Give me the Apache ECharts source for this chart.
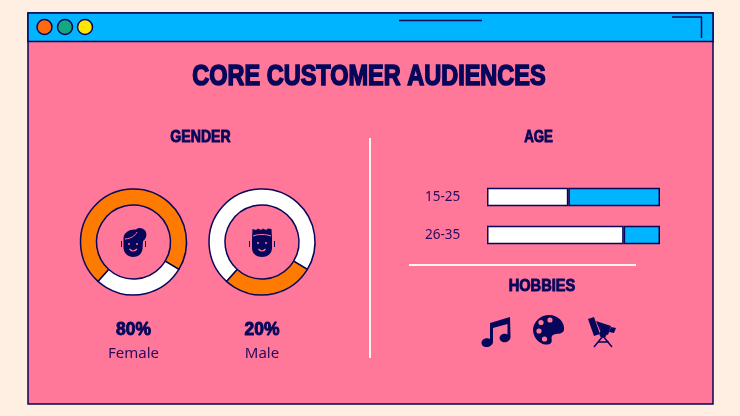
<!DOCTYPE html>
<html lang="en">
<head>
<meta charset="utf-8">
<title>Core customer audiences</title>
<script src="https://cdn.jsdelivr.net/npm/echarts@6/dist/echarts.min.js"></script>
<style>
  html, body { margin: 0; padding: 0; background: #feefe2; }
  #main { width: 740px; height: 416px; }
</style>
</head>
<body>
<div id="main"></div>
<script>
// values (the arcs are drawn shorter than the printed 80%)
var genderNames = ['Female', 'Male'];
var genderLabels = ['80%', '20%'];
var femaleArc = [72, 28];   // orange, white
var maleArc = [72, 28];     // white, orange
var ageGroups = ['26-35', '15-25'];
var ageWhite = [79, 47];
var ageBlue = [21, 53];

var navy = '#06065a';
var pink = '#ff7799';
var blue = '#00b4ff';
var orange = '#ff7a00';
var headFont = '"Liberation Sans", sans-serif';
var bodyFont = '"Noto Sans", sans-serif';

function head(x, y, text, size, sx) {
  return {
    type: 'text', x: x, y: y, z: 10, scaleX: sx,
    style: {
      text: text, fill: navy, align: 'center', verticalAlign: 'middle',
      font: 'bold ' + size + 'px ' + headFont,
      stroke: navy, lineWidth: size > 20 ? 1.6 : 0.9
    }
  };
}
function body(x, y, text) {
  return {
    type: 'text', x: x, y: y, z: 10,
    style: { text: text, fill: '#2a0a5e', align: 'center', verticalAlign: 'middle', font: '15px ' + bodyFont }
  };
}
function dot(x, color) {
  return {
    type: 'circle', z: 3, shape: { cx: x, cy: 27, r: 7.5 },
    style: { fill: color, stroke: navy, lineWidth: 1.5 }
  };
}
function line(x1, y1, x2, y2, color, w) {
  return {
    type: 'line', z: 3, shape: { x1: x1, y1: y1, x2: x2, y2: y2 },
    style: { stroke: color, lineWidth: w }
  };
}

// icons are only decoration, they go through a custom series so svg paths can be used
function icon(d) {
  return { type: 'path', shape: { pathData: d }, style: { fill: navy } };
}
function stroke(d, color, w) {
  return { type: 'path', shape: { pathData: d }, style: { fill: 'none', stroke: color, lineWidth: w } };
}
function hole(cx, cy, r) {
  return { type: 'circle', shape: { cx: cx, cy: cy, r: r }, style: { fill: pink } };
}
function drawIcons() {
  return {
    type: 'group',
    children: [
      // female face
      icon('M123.5 238 C124 232 130 229 136 229.5 C138 227 143 227.5 145.5 231 C147.5 235 146 239 143 241 L142.5 249 C142 254 138 257 133 257 C128 257 124 253.5 123.5 248 Z'),
      stroke('M121.5 241 L121.5 247 M145.5 241 L145.5 247', navy, 1),
      stroke('M125 239 C131 238.5 135 236 137 232', pink, 1),
      hole(129, 244, 1), hole(137, 244, 1),
      stroke('M129.5 249 Q133 253 137 249', pink, 1.2),
      // male face
      icon('M252.5 229 L256 230 L258 228.5 L261 230 L263 228.5 L266 230 L268 228.5 L271.5 229 L272 238 L272 248 C272 254 267 257 262 257 C257 257 252 254 252 248 L252 238 Z'),
      stroke('M249.5 241 L249.5 247 M274.5 241 L274.5 247', navy, 1),
      stroke('M253 236 C258 234 266 234 271 236', pink, 1),
      hole(258, 243, 1), hole(266, 243, 1),
      stroke('M258.5 249 Q262 253 265.5 249', pink, 1.2),
      // music note
      icon('M490 323 L510 317 L510.5 337 C510.5 341 506 343 502.5 342 C498 340 499 335 503 334 C505 333.5 506.5 334 507.5 334.5 L507.5 324 L493 328 L493 342 C493 345 489 347.5 485.5 347 C480 346 480.5 340 485 338.5 C487 338 489 338 490 339 Z'),
      // palette
      icon('M549 315 C558 315 565 322 564 330 C563 335 556 333 553 335 C550 337 553 341 551 343 C549 345 544 345 541 343 C535 340 533 334 533 329 C534 321 541 315 549 315 Z'),
      hole(541, 322.5, 2.6), hole(550, 320, 2.6), hole(539, 331, 2.6), hole(544.5, 339, 2.6),
      // telescope
      icon('M588 319 L594 317 L600 334 L594 336 Z'),
      icon('M596 321 L611 326 L608 335 L601 333 Z'),
      icon('M611 327 L616 328 L614 333 L609 332 Z'),
      { type: 'circle', shape: { cx: 603, cy: 334, r: 3.5 }, style: { fill: navy } },
      stroke('M603 336 L594 347 M603 336 L612 347 M598 342 L609 342', navy, 1.5)
    ]
  };
}

function donut(cx, arc, colors) {
  return {
    type: 'pie', center: [cx, 242], radius: [37, 53], startAngle: 228,
    silent: true, label: { show: false }, labelLine: { show: false },
    itemStyle: { borderColor: navy, borderWidth: 1.5 },
    data: [
      { value: arc[0], itemStyle: { color: colors[0] } },
      { value: arc[1], itemStyle: { color: colors[1] } }
    ]
  };
}

var myChart = echarts.init(document.getElementById('main'));

var option = {
  animation: false,
  backgroundColor: '#feefe2',
  grid: { left: 487, top: 178, width: 173, height: 76 },
  xAxis: { type: 'value', min: 0, max: 100, show: false },
  yAxis: {
    type: 'category', data: ageGroups,
    axisLine: { show: false }, axisTick: { show: false },
    axisLabel: { margin: 62, align: 'left', color: '#2a0a5e', fontFamily: bodyFont, fontSize: 13.5 }
  },
  series: [
    donut(133.5, femaleArc, [orange, '#ffffff']),
    donut(262, maleArc, ['#ffffff', orange]),
    {
      type: 'bar', stack: 'age', barWidth: 18.5, silent: true, data: ageWhite,
      itemStyle: { color: '#ffffff', borderColor: navy, borderWidth: 1.5 }
    },
    {
      type: 'bar', stack: 'age', barWidth: 18.5, silent: true, data: ageBlue,
      itemStyle: { color: blue, borderColor: navy, borderWidth: 1.5 }
    },
    { type: 'custom', coordinateSystem: 'none', silent: true, z: 5, data: [0], renderItem: drawIcons }
  ],
  graphic: [
    // window frame
    { type: 'rect', z: -2, shape: { x: 28, y: 13, width: 685, height: 391 },
      style: { fill: pink, stroke: navy, lineWidth: 1.5 } },
    { type: 'rect', z: -1, shape: { x: 28, y: 13, width: 685, height: 28.5 },
      style: { fill: blue, stroke: navy, lineWidth: 1.5 } },
    dot(44.5, '#ff6a10'), dot(65, '#14a882'), dot(85, '#ffe600'),
    line(399, 20.5, 482, 20.5, navy, 1.5),
    line(672, 17, 702, 17, navy, 1.5),
    line(701.5, 17, 701.5, 38, navy, 1.5),
    line(370, 138, 370, 358, '#fff3ec', 2),
    line(409, 265, 636, 265, '#fff3ec', 2),

    head(369, 77, 'CORE CUSTOMER AUDIENCES', 29, 0.81),
    head(200.5, 137, 'GENDER', 17, 0.83),
    head(538.5, 137, 'AGE', 17, 0.78),
    head(542, 286, 'HOBBIES', 17, 0.86),
    head(133.5, 330, genderLabels[0], 18, 0.97),
    head(262, 330, genderLabels[1], 18, 0.97),
    body(133.5, 354, genderNames[0]),
    body(262, 354, genderNames[1])
  ]
};

myChart.setOption(option);
</script>
</body>
</html>
